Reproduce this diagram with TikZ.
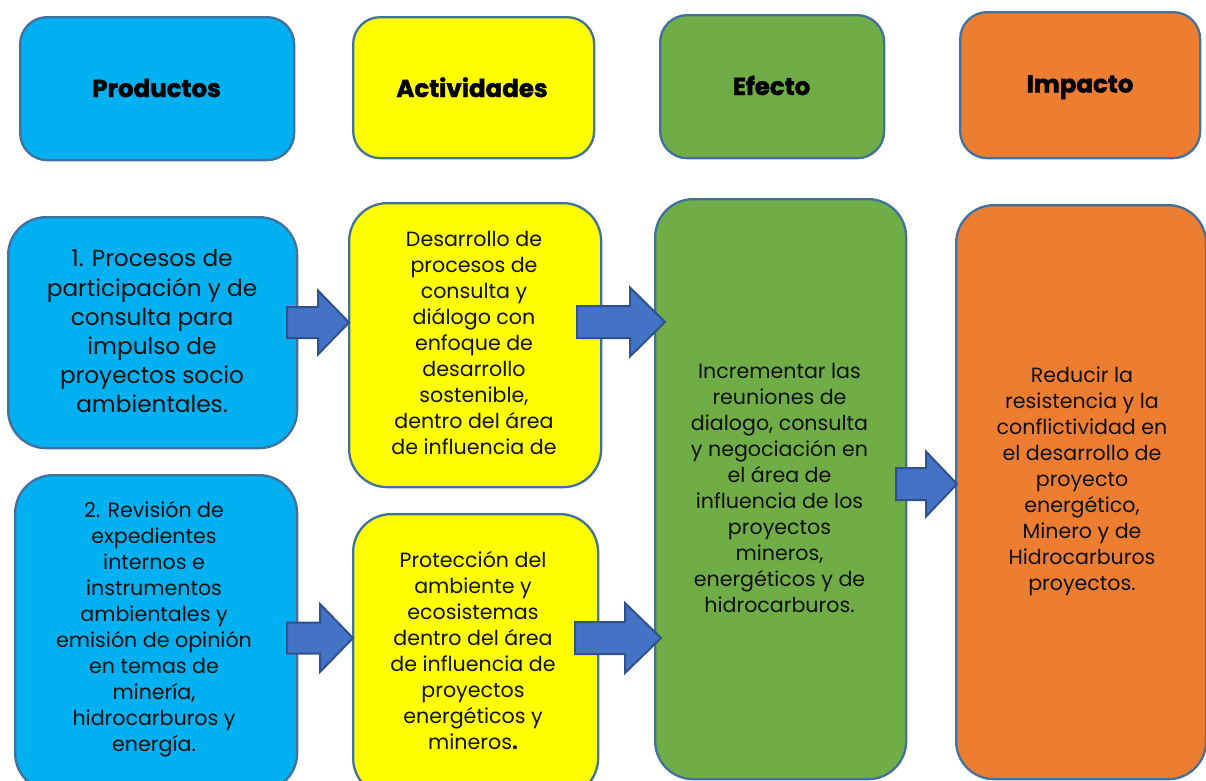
\documentclass[tikz,border=0pt]{standalone}
\usepackage{fontspec}
\setmainfont{Poppins}
\newfontfamily\headfont[FakeBold=1.8]{Poppins}
\definecolor{cblue}{HTML}{00B0F0}
\definecolor{cyellow}{HTML}{FFFF00}
\definecolor{cgreen}{HTML}{70AD47}
\definecolor{corange}{HTML}{ED7D31}
\definecolor{cborder}{HTML}{41719C}
\definecolor{carrow}{HTML}{4472C4}
\definecolor{carrowb}{HTML}{2F528F}
\definecolor{ctext}{HTML}{111111}
\tikzset{
  hbox/.style={draw=cborder, line width=2.3pt, rounded corners=27pt, anchor=north west, inner sep=0pt},
  bbox/.style={draw=cborder, line width=2.3pt, rounded corners=38pt, anchor=north west, inner sep=0pt},
  htext/.style={font=\headfont\bfseries\fontsize{24.5}{29}\selectfont, text=black, anchor=base, inner sep=0pt},
  btext/.style={font=\fontsize{20.6}{26}\selectfont, text=ctext, align=center, inner sep=0pt},
  bigtext/.style={font=\fontsize{23.2}{29.2}\selectfont, text=ctext, align=center, inner sep=0pt},
  barrow/.style={fill=carrow, draw=carrowb, line width=2pt, line join=miter}
}
\newcommand\blockarrow[6]{%
  \draw[barrow] (#1,#4-#5) -- (#2,#4-#5) -- (#2,#4-#6) -- (#3,#4) -- (#2,#4+#6) -- (#2,#4+#5) -- (#1,#4+#5) -- cycle;}
\begin{document}
\begin{tikzpicture}[x=1pt,y=-1pt]
\path[use as bounding box] (0,0) rectangle (1206,780);
\clip (0,0) rectangle (1206,780);
% header boxes
\node[hbox, fill=cblue,   minimum width=274pt, minimum height=143pt] (hprod) at (19,16) {};
\node[hbox, fill=cyellow, minimum width=241pt, minimum height=141pt] (hact)  at (352,16) {};
\node[hbox, fill=cgreen,  minimum width=224pt, minimum height=143pt] (hef)   at (659,14) {};
\node[hbox, fill=corange, minimum width=240pt, minimum height=146pt] (himp)  at (959,11) {};
\node[htext] (thprod) at (156.5,97) {Productos};
\node[htext] (thact)  at (472,97)   {Actividades};
\node[htext] (thef)   at (771.5,95) {Efecto};
\node[htext] (thimp)  at (1080,92.5){Impacto};
% body boxes
\node[bbox, fill=cblue,   minimum width=289pt, minimum height=231pt] (p1) at (7,216) {};
\node[bbox, fill=cblue,   minimum width=282pt, minimum height=316pt] (p2) at (14,474) {};
\node[bbox, fill=cyellow, minimum width=252pt, minimum height=284pt] (a1) at (348,202) {};
\node[bbox, fill=cyellow, minimum width=245pt, minimum height=282pt] (a2) at (352,513) {};
\node[bbox, fill=cgreen,  minimum width=251pt, minimum height=580pt] (ef) at (654,198) {};
\node[bbox, fill=corange, minimum width=250pt, minimum height=574pt] (im) at (955,204) {};
% body texts
\node[bigtext] (tp1) at (152,331.5) {1. Procesos de\\participación y de\\consulta para\\impulso de\\proyectos socio\\ambientales.};
\node[btext] (tp2) at (154,629.5) {2. Revisión de\\expedientes\\internos e\\instrumentos\\ambientales y\\emisión de opinión\\en temas de\\minería,\\hidrocarburos y\\energía.};
\node[btext] (ta1) at (474,343) {Desarrollo de\\procesos de\\consulta y\\diálogo con\\enfoque de\\desarrollo\\sostenible,\\dentro del área\\de influencia de};
\node[btext] (ta2) at (473,650) {Protección del\\ambiente y\\ecosistemas\\dentro del área\\de influencia de\\proyectos\\energéticos y\\mineros\textbf{.}};
\node[btext] (tef) at (779.5,488) {Incrementar las\\reuniones de\\dialogo, consulta\\y negociación en\\el área de\\influencia de los\\proyectos\\mineros,\\energéticos y de\\hidrocarburos.};
\node[btext] (tim) at (1082,481.5) {Reducir la\\resistencia y la\\conflictividad en\\el desarrollo de\\proyecto\\energético,\\Minero y de\\Hidrocarburos\\proyectos.};
% block arrows
\blockarrow{287}{318}{349}{322.5}{15.5}{32}
\blockarrow{577}{630}{665}{322}{16}{34.5}
\blockarrow{287}{320}{353}{638}{15.5}{34}
\blockarrow{575}{625}{661}{638}{16}{35}
\blockarrow{896}{926}{957}{484}{16}{32.5}
\end{tikzpicture}
\end{document}
